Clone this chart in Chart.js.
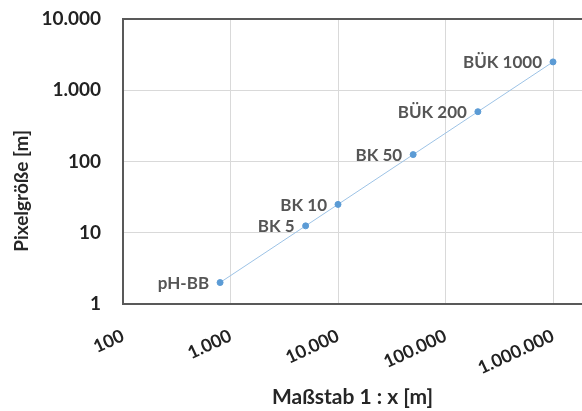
<!DOCTYPE html>
<html>
<head>
<meta charset="utf-8">
<script src="https://cdn.jsdelivr.net/npm/chart.js@4/dist/chart.umd.min.js"></script>
<style>
  html, body { margin: 0; padding: 0; background: #fff; }
  #wrap { width: 582px; height: 411px; }
</style>
</head>
<body>
<div id="wrap"><canvas id="chart" width="582" height="411"></canvas></div>
<script>
// Maßstab (1 : x) und Pixelgröße je Datensatz
var names = ['pH-BB', 'BK 5', 'BK 10', 'BK 50', 'BÜK 200', 'BÜK 1000'];
var scaleX = [800, 5000, 10000, 50000, 200000, 1000000];
var pixelSize = [2, 12.5, 25, 125, 500, 2500];

var fmt = (v) => Number(v).toLocaleString('de-DE');
var isPow10 = (v) => Math.abs(Math.log10(v) - Math.round(Math.log10(v))) < 1e-9;

var points = scaleX.map((x, i) => ({ x: x, y: pixelSize[i] }));

// Beschriftung links neben den Punkten + Titel der y-Achse
var pointLabels = {
    id: 'pointLabels',
    afterDatasetsDraw(chart) {
        var ctx = chart.ctx;
        var meta = chart.getDatasetMeta(0);
        ctx.save();
        ctx.font = 'bold 17px Lato';
        ctx.fillStyle = '#555555';
        ctx.textAlign = 'right';
        ctx.textBaseline = 'middle';
        meta.data.forEach((el, i) => {
            ctx.fillText(names[i], el.x - 11, el.y + 1);
        });

        // y-Achsentitel (bei Excel etwas unterhalb der Mitte)
        ctx.translate(22, 191);
        ctx.rotate(-Math.PI / 2);
        ctx.textAlign = 'center';
        ctx.fillStyle = '#262626';
        ctx.font = 'bold 19px Lato';
        ctx.fillText('Pixelgröße [m]', 0, 0);
        ctx.restore();
    }
};

new Chart('chart', {
    type: 'line',
    data: {
        datasets: [{
            data: points,
            borderColor: '#9dc3e6',
            borderWidth: 1,
            pointBackgroundColor: '#5b9bd5',
            pointBorderColor: '#5b9bd5',
            pointRadius: 3,
            tension: 0
        }]
    },
    options: {
        responsive: false,
        animation: false,
        layout: { autoPadding: false, padding: { top: 19, right: 0, left: 0, bottom: 0 } },
        plugins: { legend: { display: false }, tooltip: { enabled: false } },
        scales: {
            x: {
                type: 'logarithmic',
                min: 100,
                max: 1860000,
                afterBuildTicks: (s) => { s.ticks = s.ticks.filter(t => isPow10(t.value)); },
                afterFit: (s) => { s.height = 107; s.paddingRight = 0; s.paddingLeft = 0; },
                grid: { color: '#d9d9d9', lineWidth: 1, drawTicks: false },
                border: { color: '#595959', width: 2 },
                ticks: {
                    autoSkip: false,
                    minRotation: 25,
                    maxRotation: 25,
                    padding: 21,
                    color: '#222222',
                    font: { family: 'Lato', size: 18, weight: 'bold' },
                    callback: (v) => fmt(v)
                },
                title: {
                    display: true,
                    text: 'Maßstab 1 : x [m]',
                    color: '#262626',
                    font: { family: 'Lato', size: 21, weight: 'bold' },
                    padding: { top: 4, bottom: 1 }
                }
            },
            y: {
                type: 'logarithmic',
                min: 1,
                max: 10000,
                afterBuildTicks: (s) => { s.ticks = s.ticks.filter(t => isPow10(t.value)); },
                afterFit: (s) => { s.width = 123; s.paddingTop = 0; s.paddingBottom = 0; },
                grid: {
                    color: (c) => c.tick && c.tick.value === 10000 ? '#595959' : '#d9d9d9',
                    lineWidth: (c) => c.tick && c.tick.value === 10000 ? 2 : 1,
                    drawTicks: false
                },
                border: { color: '#595959', width: 2 },
                ticks: {
                    autoSkip: false,
                    padding: 22,
                    color: '#222222',
                    font: { family: 'Lato', size: 19, weight: 'bold' },
                    callback: (v) => fmt(v)
                }
            }
        }
    },
    plugins: [pointLabels]
});
</script>
</body>
</html>
